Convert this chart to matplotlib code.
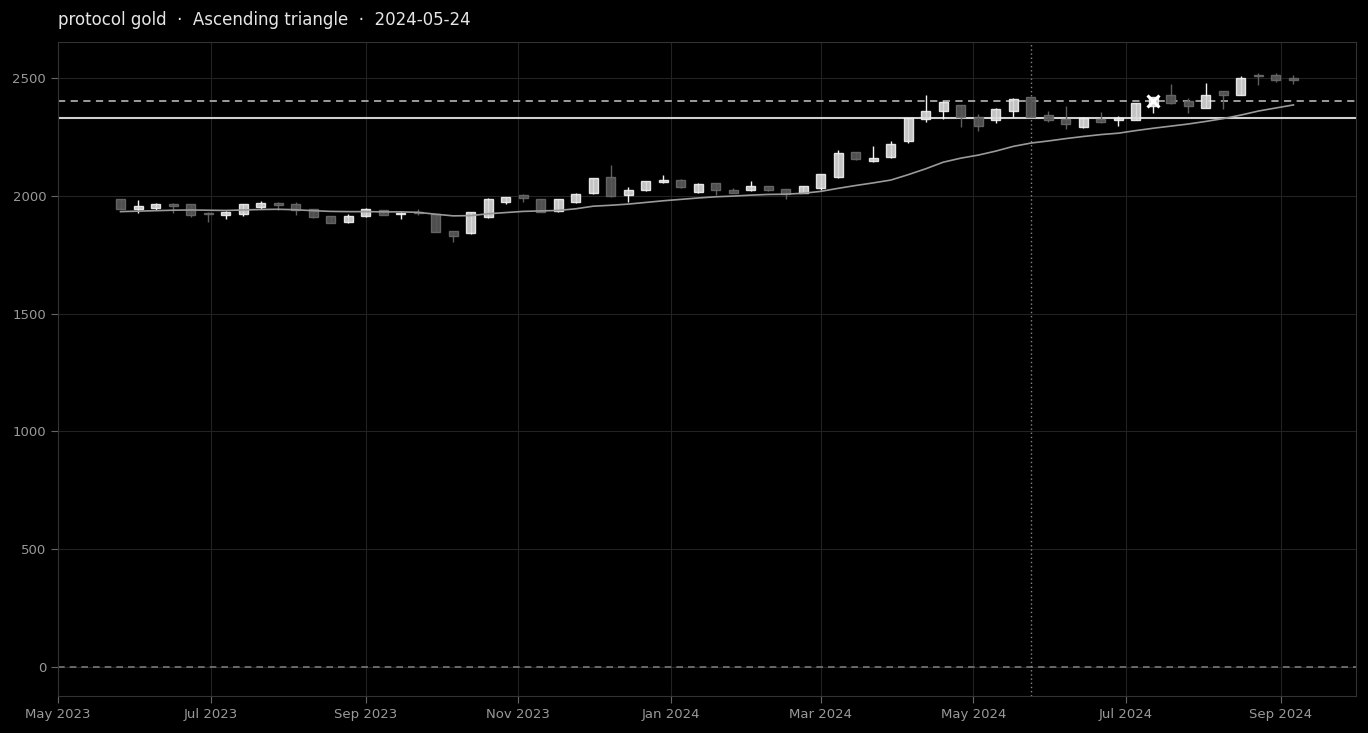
import matplotlib
matplotlib.use("Agg")
import matplotlib.pyplot as plt
import matplotlib.dates as mdates
import numpy as np
import pandas as pd

# weekly candles
dates = pd.date_range("2023-05-26", periods=68, freq="7D")
opens = [1985, 1943, 1948, 1965, 1965, 1929, 1917, 1922, 1951, 1968, 1965, 1943, 1913, 1891, 1913, 1939, 1922,
         1933, 1922, 1851, 1841, 1909, 1975, 2004, 1985, 1937, 1975, 2011, 2079, 2003, 2024, 2058, 2066, 2018,
         2053, 2024, 2024, 2041, 2028, 2014, 2032, 2082, 2184, 2147, 2164, 2234, 2325, 2358, 2384, 2336, 2322,
         2358, 2418, 2342, 2326, 2291, 2328, 2322, 2322, 2382, 2430, 2401, 2374, 2443, 2430, 2515, 2511, 2502]
highs = [1987, 1982, 1971, 1971, 1967, 1931, 1937, 1966, 1977, 1974, 1974, 1945, 1914, 1923, 1947, 1941, 1931,
         1943, 1924, 1852, 1932, 1991, 1996, 2006, 1987, 1987, 2011, 2076, 2130, 2039, 2064, 2087, 2070, 2055,
         2055, 2032, 2062, 2043, 2030, 2043, 2093, 2195, 2186, 2210, 2232, 2331, 2427, 2402, 2386, 2346, 2372,
         2415, 2420, 2358, 2383, 2334, 2355, 2339, 2396, 2420, 2473, 2417, 2477, 2445, 2509, 2523, 2523, 2514]
lows = [1943, 1929, 1940, 1926, 1912, 1890, 1900, 1913, 1946, 1938, 1917, 1908, 1883, 1883, 1911, 1917, 1900,
        1917, 1845, 1805, 1840, 1908, 1967, 1975, 1930, 1932, 1968, 2009, 1993, 1973, 2022, 2053, 2033, 2014,
        2003, 2011, 2022, 2022, 1985, 2012, 2025, 2077, 2153, 2145, 2162, 2226, 2315, 2325, 2294, 2277, 2308,
        2333, 2333, 2315, 2283, 2289, 2308, 2297, 2320, 2350, 2391, 2350, 2372, 2367, 2428, 2471, 2482, 2473]
closes = [1943, 1957, 1965, 1957, 1917, 1922, 1931, 1964, 1968, 1960, 1939, 1912, 1883, 1913, 1943, 1917, 1929,
          1926, 1845, 1828, 1930, 1985, 1994, 1990, 1930, 1985, 2006, 2074, 2000, 2024, 2062, 2066, 2039, 2049,
          2024, 2014, 2041, 2024, 2007, 2041, 2091, 2181, 2155, 2159, 2219, 2329, 2359, 2400, 2333, 2298, 2370,
          2413, 2333, 2321, 2304, 2332, 2314, 2331, 2394, 2418, 2393, 2380, 2427, 2430, 2499, 2510, 2490, 2491]
sma = [1933, 1935, 1937, 1939, 1940, 1939, 1938, 1940, 1942, 1943, 1941, 1937, 1934, 1933, 1933, 1932, 1932,
       1930, 1922, 1915, 1916, 1924, 1929, 1934, 1936, 1938, 1945, 1956, 1960, 1965, 1972, 1979, 1985, 1991,
       1996, 1999, 2003, 2006, 2007, 2011, 2019, 2032, 2044, 2055, 2067, 2090, 2115, 2143, 2160, 2173, 2190,
       2210, 2224, 2233, 2243, 2252, 2260, 2266, 2277, 2287, 2296, 2305, 2316, 2328, 2343, 2360, 2373, 2386]

support = 2330
resistance = 2402
pattern_date = pd.Timestamp("2024-05-24")
breakout_date = pd.Timestamp("2024-07-12")

bg = "#000000"
bull_fill, bull_edge = "#d9d9d9", "#f2f2f2"
bear_fill, bear_edge = "#575757", "#6a6a6a"

fig, ax = plt.subplots(figsize=(13.68, 7.33), dpi=100)
fig.patch.set_facecolor(bg)
ax.set_facecolor(bg)
fig.subplots_adjust(left=58 / 1368, right=1356 / 1368, top=1 - 42 / 733, bottom=1 - 696 / 733)

x = mdates.date2num(dates)
width = 3.6
for xi, o, h, l, c in zip(x, opens, highs, lows, closes):
    up = c >= o
    fill = bull_fill if up else bear_fill
    edge = bull_edge if up else bear_edge
    ax.vlines(xi, l, h, color=edge if up else "#5e5e5e", lw=1, zorder=3)
    ax.add_patch(plt.Rectangle((xi - width / 2, min(o, c)), width, max(abs(c - o), 2),
                               facecolor=fill, edgecolor=edge, lw=1, alpha=0.9, zorder=4))

ax.plot(x, sma, color="#9a9a9a", lw=1.2, zorder=5)

ax.axhline(support, color="#d0d0d0", lw=1.5, zorder=2)
ax.axhline(resistance, color="#a8a8a8", lw=1.3, ls=(0, (4, 3)), zorder=2)
ax.axhline(0, color="#777777", lw=1.2, ls=(0, (4, 3)), zorder=2)
ax.axvline(mdates.date2num(pattern_date), color="#888888", lw=1, ls=(0, (1, 2)), zorder=2)
ax.plot(mdates.date2num(breakout_date), resistance, marker="x", color="#ffffff",
        ms=9, mew=2.2, zorder=6)

ax.set_xlim(mdates.date2num(pd.Timestamp("2023-05-01")), mdates.date2num(pd.Timestamp("2024-10-01")))
ax.set_ylim(-123, 2653)
ax.xaxis.set_major_locator(mdates.MonthLocator(bymonth=[1, 3, 5, 7, 9, 11]))
ax.xaxis.set_major_formatter(mdates.DateFormatter("%b %Y"))
ax.set_yticks([0, 500, 1000, 1500, 2000, 2500])

ax.grid(True, color="#222222", lw=0.8, zorder=0)
ax.set_axisbelow(True)
for s in ax.spines.values():
    s.set_color("#333333")
ax.tick_params(colors="#666666", labelcolor="#999999", labelsize=9.5, length=5)

ax.set_title("protocol gold  ·  Ascending triangle  ·  2024-05-24", loc="left",
             color="#e6e6e6", fontsize=12, pad=12)

fig.savefig("out.png", dpi=100, facecolor=bg)
